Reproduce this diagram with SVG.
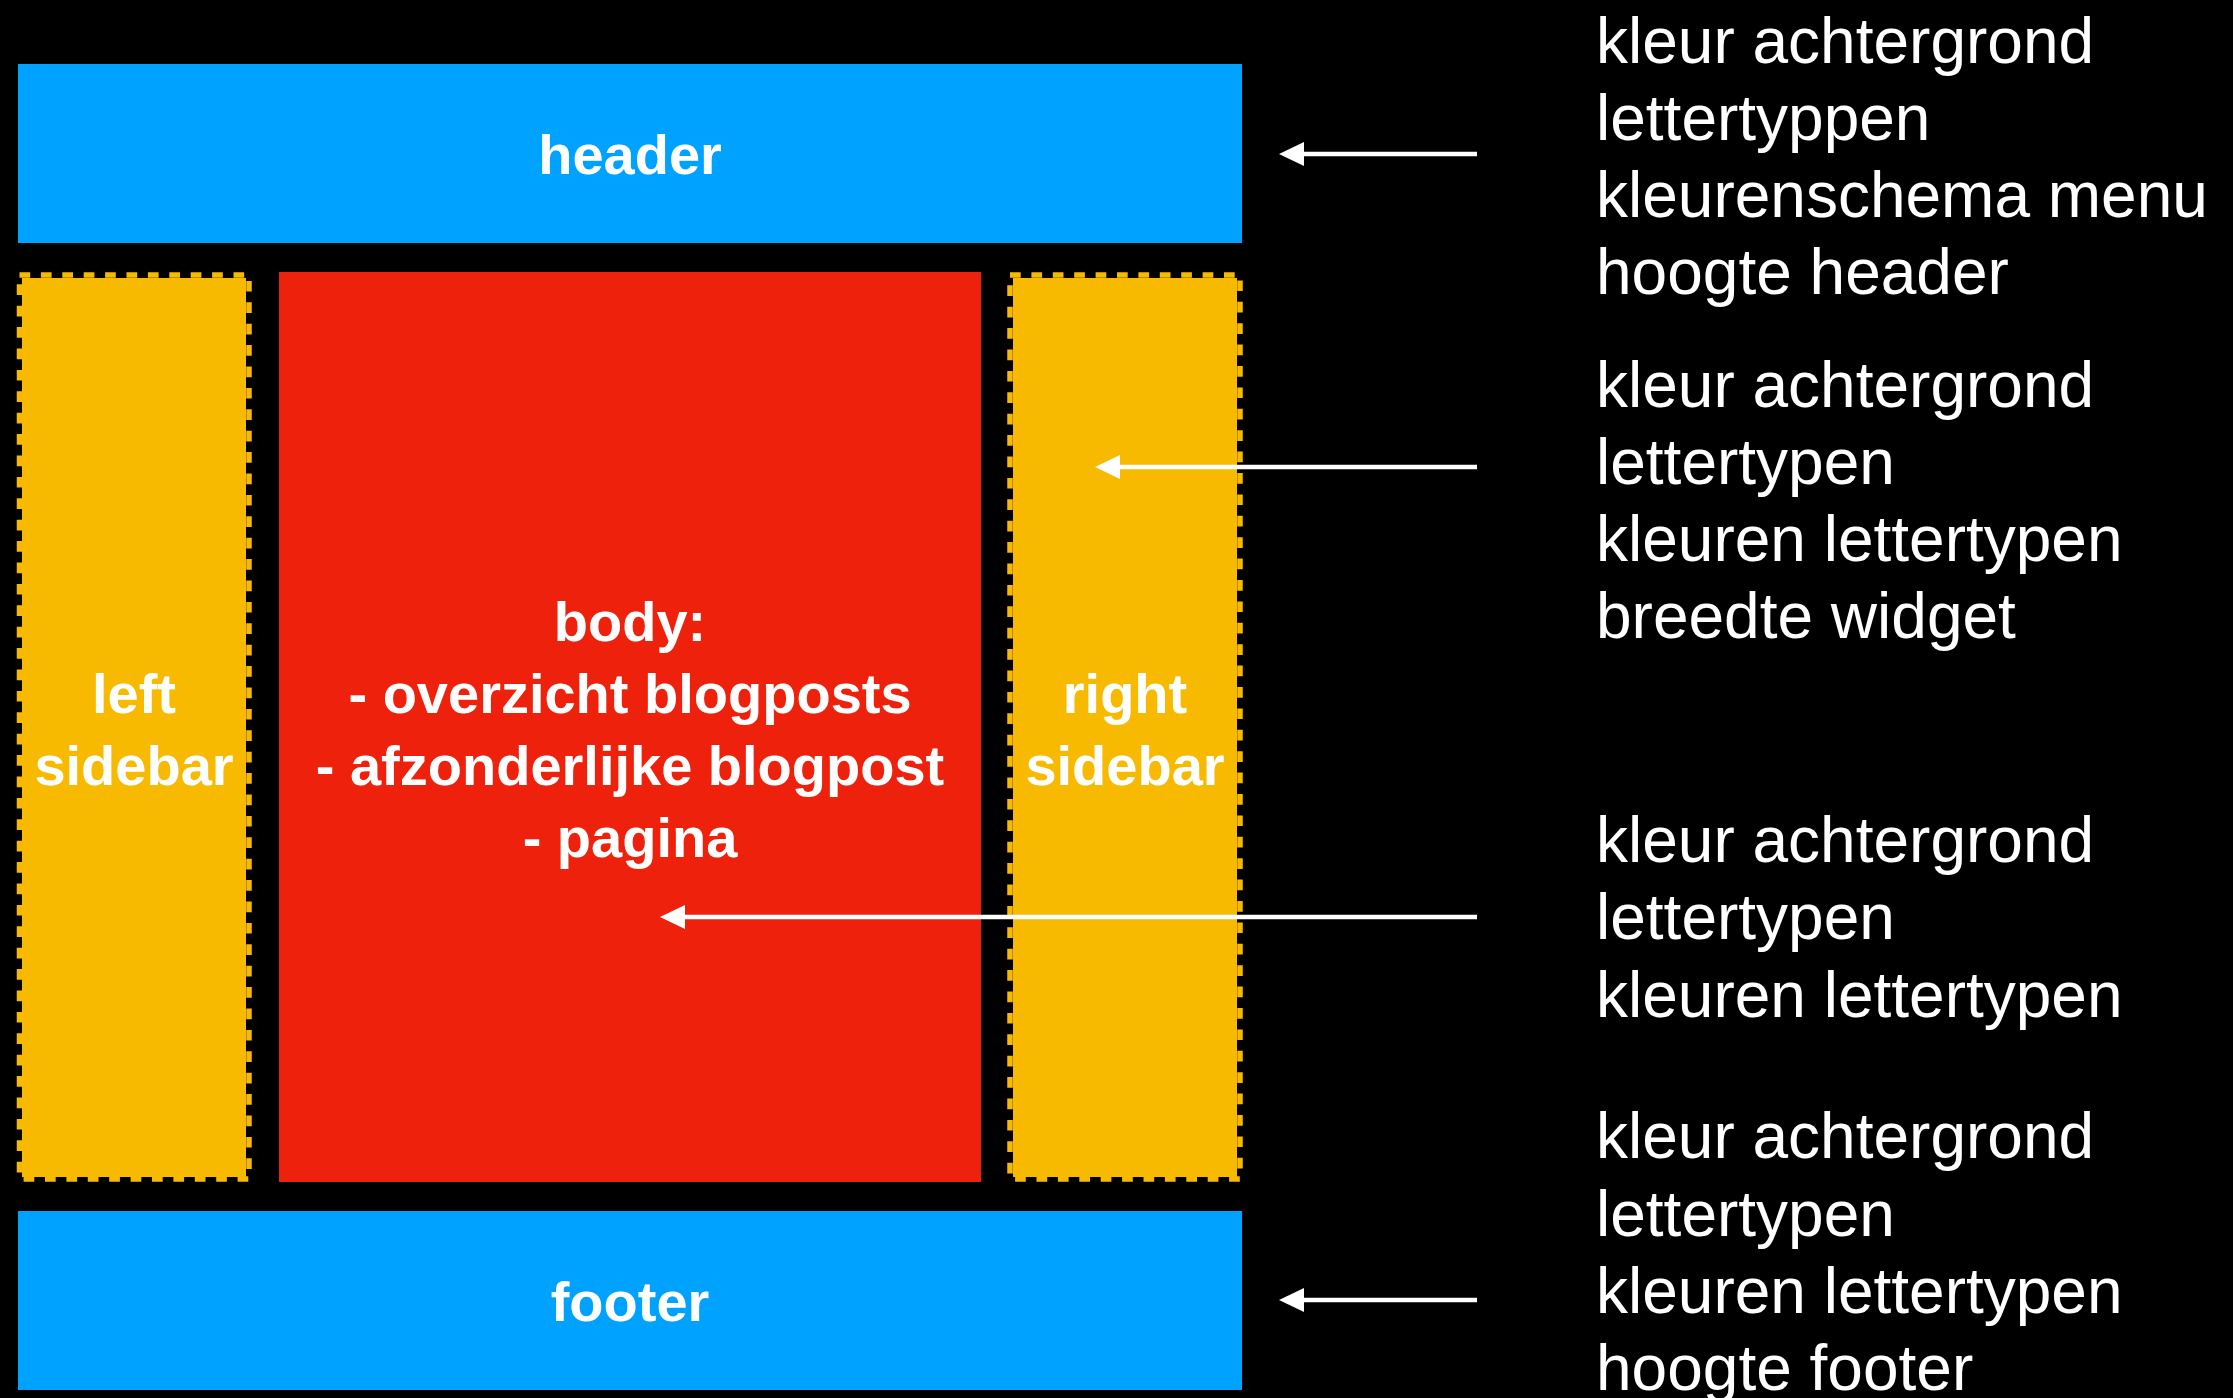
<svg xmlns="http://www.w3.org/2000/svg" width="2233" height="1398" viewBox="0 0 2233 1398">
  <defs>
    <style>
      .blue { fill: #00A2FF; }
      .red { fill: #EE220C; }
      .yellow { fill: #F8BA00; }
      .dash { fill: none; stroke: #F8BA00; stroke-width: 5.5; stroke-dasharray: 10.7 10.7; }
      .lbl { font-family: "Liberation Sans", Arial, Helvetica, sans-serif; font-weight: bold; font-size: 56px; fill: #FFFFFF; text-anchor: middle; }
      .note { font-family: "Liberation Sans", Arial, Helvetica, sans-serif; font-size: 64px; fill: #FFFFFF; }
      .conn { stroke: #FFFFFF; stroke-width: 4.5; fill: none; }
    </style>
    <marker id="arrow" viewBox="0 0 25 24" refX="2" refY="12" markerWidth="25" markerHeight="24" markerUnits="userSpaceOnUse" orient="auto">
      <path d="M0,0 L25,12 L0,24 z" fill="#FFFFFF"/>
    </marker>
  </defs>
  <rect x="0" y="0" width="2233" height="1398" fill="#000000"/>

  <g id="header">
    <rect class="blue" x="18" y="64" width="1224" height="179"/>
    <text class="lbl" x="630" y="174">header</text>
  </g>

  <g id="left-sidebar">
    <rect class="yellow" x="22" y="278" width="224" height="899"/>
    <rect class="dash" x="19.5" y="275" width="229.5" height="904"/>
    <text class="lbl" x="134" y="713">left</text>
    <text class="lbl" x="134" y="785">sidebar</text>
  </g>

  <g id="body">
    <rect class="red" x="279" y="272" width="702" height="910"/>
    <text class="lbl" x="630" y="641">body:</text>
    <text class="lbl" x="630" y="713">- overzicht blogposts</text>
    <text class="lbl" x="630" y="785">- afzonderlijke blogpost</text>
    <text class="lbl" x="630" y="857">- pagina</text>
  </g>

  <g id="right-sidebar">
    <rect class="yellow" x="1013" y="278" width="224" height="899"/>
    <rect class="dash" x="1010" y="275" width="230" height="904"/>
    <text class="lbl" x="1125" y="713">right</text>
    <text class="lbl" x="1125" y="785">sidebar</text>
  </g>

  <g id="footer">
    <rect class="blue" x="18" y="1211" width="1224" height="179"/>
    <text class="lbl" x="630" y="1321">footer</text>
  </g>

  <g id="notes-header">
    <text class="note" x="1596" y="63">kleur achtergrond</text>
    <text class="note" x="1596" y="140">lettertyppen</text>
    <text class="note" x="1596" y="217">kleurenschema menu</text>
    <text class="note" x="1596" y="294">hoogte header</text>
  </g>

  <g id="notes-sidebar">
    <text class="note" x="1596" y="407">kleur achtergrond</text>
    <text class="note" x="1596" y="484">lettertypen</text>
    <text class="note" x="1596" y="561">kleuren lettertypen</text>
    <text class="note" x="1596" y="638">breedte widget</text>
  </g>

  <g id="notes-body">
    <text class="note" x="1596" y="862">kleur achtergrond</text>
    <text class="note" x="1596" y="939">lettertypen</text>
    <text class="note" x="1596" y="1017">kleuren lettertypen</text>
  </g>

  <g id="notes-footer">
    <text class="note" x="1596" y="1158">kleur achtergrond</text>
    <text class="note" x="1596" y="1236">lettertypen</text>
    <text class="note" x="1596" y="1313">kleuren lettertypen</text>
    <text class="note" x="1596" y="1390">hoogte footer</text>
  </g>

  <g id="connectors">
    <line class="conn" x1="1477" y1="154" x2="1302" y2="154" marker-end="url(#arrow)"/>
    <line class="conn" x1="1477" y1="467" x2="1118" y2="467" marker-end="url(#arrow)"/>
    <line class="conn" x1="1477" y1="917" x2="683" y2="917" marker-end="url(#arrow)"/>
    <line class="conn" x1="1477" y1="1300" x2="1302" y2="1300" marker-end="url(#arrow)"/>
  </g>
</svg>
